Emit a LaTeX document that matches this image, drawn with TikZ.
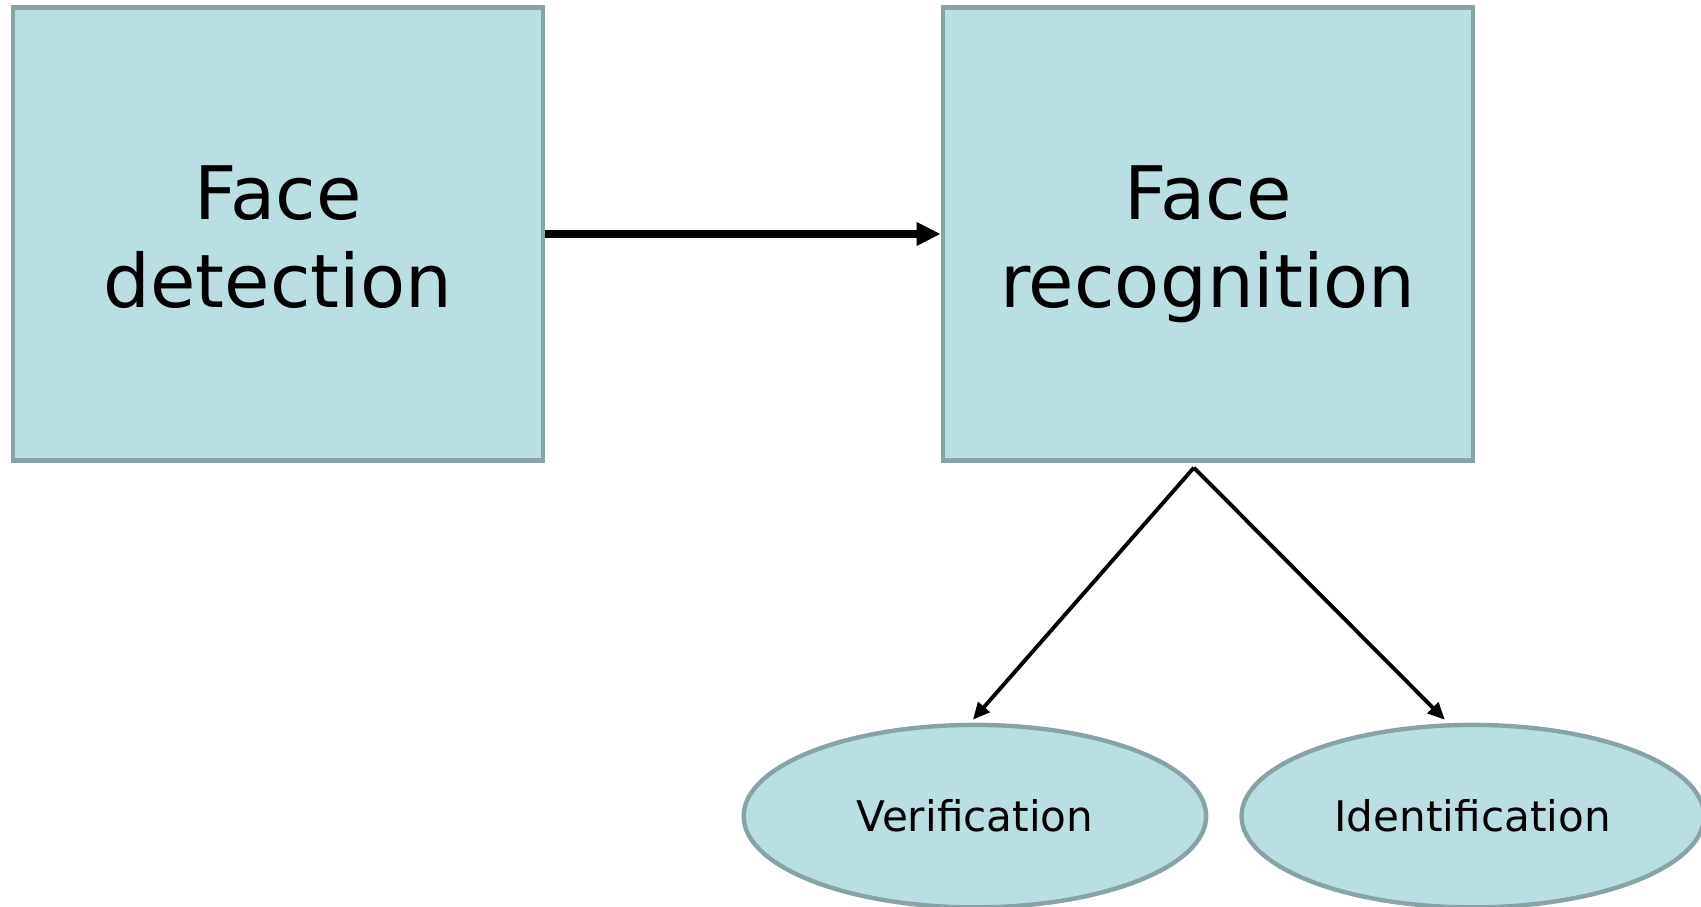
\documentclass[tikz,border=0pt]{standalone}
\usepackage{fontspec}
\setmainfont{DejaVu Sans}
\usepackage{tikz}
\usetikzlibrary{shapes.geometric,positioning,arrows.meta}

\definecolor{boxfill}{HTML}{B9DFE2}
\definecolor{boxline}{HTML}{87A3A5}

\tikzset{
    stagebox/.style={rectangle, draw=boxline, line width=2.5pt, fill=boxfill, minimum width=10.6cm, minimum height=9.06cm, align=center, text height=2.95cm, text depth=0pt, font=\fontsize{42}{50}\selectfont},
    taskoval/.style={ellipse, draw=boxline, line width=2.5pt, fill=boxfill, minimum width=9.25cm, minimum height=3.65cm, font=\fontsize{24}{28}\selectfont},
    flow/.style={-{Triangle[length=0.48cm,width=0.44cm]}, line width=4pt},
    split/.style={-{Triangle[length=0.34cm,width=0.3cm]}, line width=2.2pt}
}

\begin{document}
\begin{tikzpicture}
    \useasboundingbox (0,0) rectangle (34.02,-18.14);

    % Face detection - left
    \node [stagebox] (detect) at (5.56,-4.68) {Face\\detection};

    % Face recognition - right
    \node [stagebox, right=7.91cm of detect] (recog) {Face\\recognition};

    % Two tasks - bottom
    \node [taskoval, below=5.2cm of recog, xshift=-4.66cm] (verif) {Verification};
    \node [taskoval, right=0.62cm of verif] (ident) {Identification};

    \coordinate (fork) at ([xshift=-0.28cm,yshift=-0.1cm]recog.south);

    % Connectors
    \draw [flow] (detect.east) -- (recog.west);
    \draw [split] (fork) -- ([xshift=-0.04cm,yshift=0.06cm]verif.north);
    \draw [split] (fork) -- ([xshift=-0.56cm,yshift=0.06cm]ident.north);

\end{tikzpicture}
\end{document}
